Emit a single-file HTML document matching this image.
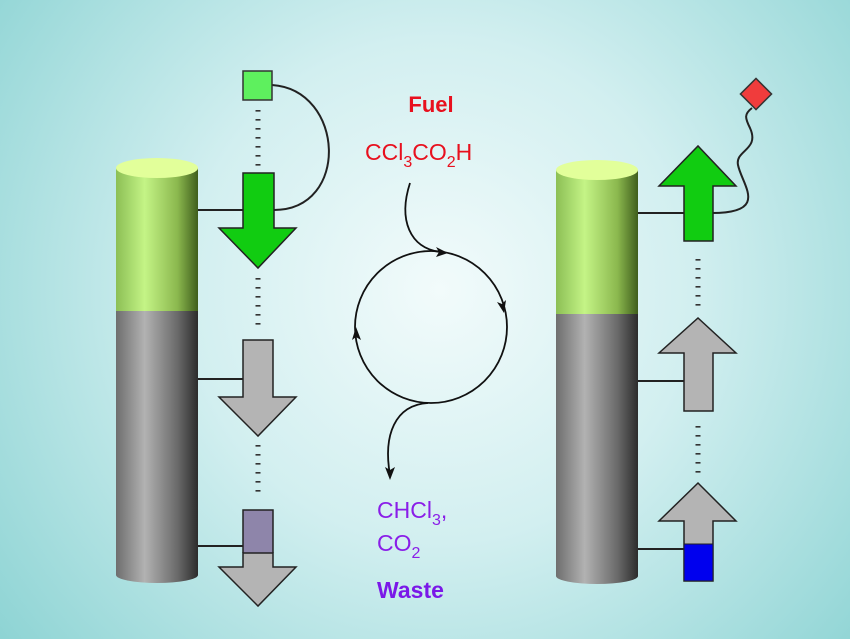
<!DOCTYPE html>
<html><head><meta charset="utf-8"><style>
html,body{margin:0;padding:0;width:850px;height:639px;overflow:hidden}
svg{display:block}
text{font-family:"Liberation Sans",Arial,sans-serif}
</style></head><body>
<svg width="850" height="639" viewBox="0 0 850 639" xmlns="http://www.w3.org/2000/svg">
<defs>
<radialGradient id="bg" cx="440" cy="290" r="560" gradientUnits="userSpaceOnUse">
<stop offset="0" stop-color="#f2fbfb"/><stop offset="0.45" stop-color="#d2eff0"/><stop offset="1" stop-color="#8ed4d4"/>
</radialGradient>
<linearGradient id="gg" x1="0" x2="1" y1="0" y2="0">
<stop offset="0" stop-color="#8cbf55"/><stop offset="0.35" stop-color="#c4f486"/><stop offset="0.75" stop-color="#8bb84e"/><stop offset="1" stop-color="#3f5e1c"/>
</linearGradient>
<linearGradient id="gy" x1="0" x2="1" y1="0" y2="0">
<stop offset="0" stop-color="#6e6e6e"/><stop offset="0.35" stop-color="#b2b2b2"/><stop offset="0.75" stop-color="#6a6a6a"/><stop offset="1" stop-color="#2c2c2c"/>
</linearGradient>
</defs>
<rect width="850" height="639" fill="url(#bg)"/>

<rect x="116" y="168" width="82" height="143" fill="url(#gg)"/>
<path d="M116,311 L198,311 L198,575 A41,8 0 0 1 116,575 Z" fill="url(#gy)"/>
<ellipse cx="157" cy="168" rx="41" ry="10" fill="#e2ff9a"/>
<rect x="556" y="170" width="82" height="144" fill="url(#gg)"/>
<path d="M556,314 L638,314 L638,576 A41,8 0 0 1 556,576 Z" fill="url(#gy)"/>
<ellipse cx="597" cy="170" rx="41" ry="10" fill="#e2ff9a"/>

<g stroke="#222" stroke-width="2" fill="none">
<line x1="198" y1="210" x2="244" y2="210"/>
<line x1="198" y1="379" x2="244" y2="379"/>
<line x1="198" y1="546" x2="244" y2="546"/>
<path d="M272,85 C345,90 350,210 274,210"/>
<line x1="638" y1="213" x2="684" y2="213"/>
<line x1="638" y1="381" x2="684" y2="381"/>
<line x1="638" y1="549" x2="684" y2="549"/>
<path d="M712,213 C770,213 742,185 738,165 C735,150 760,150 750,128 C745,118 744,114 752,108"/>
</g>
<g stroke="#333" stroke-width="5" stroke-dasharray="1.6,7.4">
<line x1="258" y1="110" x2="258" y2="170"/>
<line x1="258" y1="278" x2="258" y2="330"/>
<line x1="258" y1="445" x2="258" y2="495"/>
<line x1="698" y1="259" x2="698" y2="310"/>
<line x1="698" y1="426" x2="698" y2="475"/>
</g>

<rect x="243" y="71" width="29" height="29" fill="#5ef05e" stroke="#333" stroke-width="1.5"/>
<path d="M243,173 L274,173 L274,228 L296,228 L258,268 L219,228 L243,228 Z" fill="#11cc11" stroke="#222" stroke-width="1.5"/>
<path d="M243,340 L273,340 L273,397 L296,397 L258,436 L219,397 L243,397 Z" fill="#b4b4b4" stroke="#222" stroke-width="1.5"/>
<rect x="243" y="510" width="30" height="43" fill="#8e85aa"/>
<path d="M243,553 L273,553 L273,567 L296,567 L258,606 L219,567 L243,567 Z" fill="#b4b4b4" stroke="#222" stroke-width="1.5"/>
<path d="M243,553 L243,510 L273,510 L273,553" fill="none" stroke="#222" stroke-width="1.5"/>

<path d="M684,241 L713,241 L713,186 L736,186 L698,146 L659,186 L684,186 Z" fill="#11cc11" stroke="#222" stroke-width="1.5"/>
<path d="M684,411 L713,411 L713,353 L736,353 L698,318 L659,353 L684,353 Z" fill="#b4b4b4" stroke="#222" stroke-width="1.5"/>
<path d="M684,581 L713,581 L713,521 L736,521 L698,483 L659,521 L684,521 Z" fill="#b4b4b4" stroke="#222" stroke-width="1.5"/>
<rect x="684" y="544" width="29" height="37" fill="#0000ee" stroke="#222" stroke-width="1"/>
<rect x="745" y="83" width="22" height="22" fill="#f03c3c" stroke="#333" stroke-width="1.5" transform="rotate(45 756 94)"/>

<g stroke="#111" stroke-width="1.8" fill="none">
<path d="M410,183 C398,220 410,248 440,252"/>
<circle cx="431" cy="327" r="76"/>
<path d="M428,403 C395,405 383,435 390,475"/>
</g>
<g fill="#111">
<path d="M448,253 L436,247 L439,252 L436,257 Z"/>
<path d="M504,313 L497,302 L502,304 L506,300 Z"/>
<path d="M356,327 L352,340 L356,337 L361,340 Z"/>
<path d="M390,480 L385,467 L390,470 L395,467 Z"/>
</g>

<text x="431" y="112" font-size="22" font-weight="bold" fill="#e8101e" text-anchor="middle">Fuel</text>
<text x="365" y="160" font-size="23" fill="#e8101e">CCl<tspan font-size="16" dy="7">3</tspan><tspan dy="-7">CO</tspan><tspan font-size="16" dy="7">2</tspan><tspan dy="-7">H</tspan></text>
<text x="377" y="518" font-size="23" fill="#8a1ee8">CHCl<tspan font-size="16" dy="7">3</tspan><tspan dy="-7">,</tspan></text>
<text x="377" y="551" font-size="23" fill="#8a1ee8">CO<tspan font-size="16" dy="7">2</tspan></text>
<text x="377" y="598" font-size="23" font-weight="bold" fill="#7a18e8">Waste</text>
</svg>
</body></html>
